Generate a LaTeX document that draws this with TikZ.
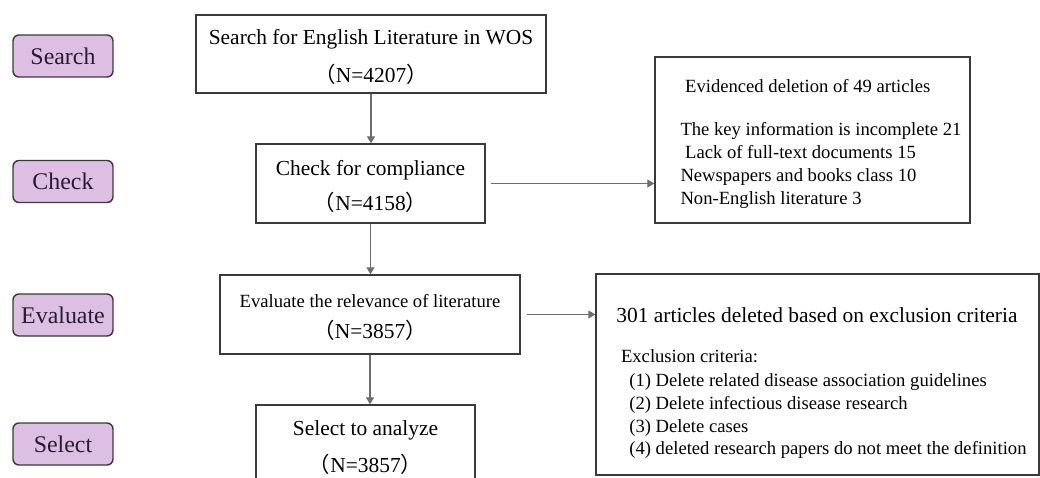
\documentclass[tikz,border=0pt]{standalone}
\usepackage{fontspec}
\setmainfont{Liberation Serif}
\newfontfamily\cjk{Noto Sans CJK SC}
\usetikzlibrary{arrows.meta}

\definecolor{mauve}{HTML}{DDBFE4}
\definecolor{bordure}{HTML}{3A3A3A}
\definecolor{trait}{HTML}{6E6E6E}
\definecolor{encre}{HTML}{2B1A30}

\newcommand{\grand}{\fontsize{12.2}{20.5}\selectfont}
\newcommand{\petit}{\fontsize{10.6}{13}\selectfont}
\newcommand{\effectif}[1]{{\cjk （}N=#1{\cjk ）}}
\newcommand{\haut}[1]{\rule{0pt}{#1}}

\begin{document}
\begin{tikzpicture}[x=0.02cm, y=-0.02cm,
    stagebox/.style={rectangle, rounded corners=3.4pt, draw=bordure, line width=0.8pt, fill=mauve,
        text=encre, font=\fontsize{13.6}{16}\selectfont, inner sep=0pt, minimum width=2cm, minimum height=0.84cm},
    flowbox/.style={rectangle, draw=bordure, line width=0.8pt, inner sep=0pt, align=center, font=\grand},
    flowarrow/.style={draw=trait, line width=0.6pt, -{Triangle[length=4pt, width=4.6pt]}}]

\clip (0,0) rectangle (1040,477);

% Étapes à gauche
\foreach \nom/\y [count=\i] in {Search/56, Check/181.5, Evaluate/315, Select/444} {
    \node[stagebox] (etape\i) at (63,\y) {\nom};
}

% Boîtes principales
\node[flowbox, minimum width=7cm, minimum height=1.56cm, font=\fontsize{12.2}{22}\selectfont] (recherche) at (371,54)
    {\haut{12pt}Search for English Literature in WOS\\\effectif{4207}};
\node[flowbox, minimum width=4.58cm, minimum height=1.58cm, font=\fontsize{12.2}{20}\selectfont] (controle) at (370.5,183.5)
    {\haut{12pt}Check for compliance\\\effectif{4158}};
\node[flowbox, minimum width=6cm, minimum height=1.58cm, font=\fontsize{12.2}{18}\selectfont] (evaluation) at (370,314.5)
    {\haut{11pt}{\petit Evaluate the relevance of literature}\\\effectif{3857}};
\node[flowbox, minimum width=4.38cm, minimum height=1.58cm, font=\fontsize{12.2}{21}\selectfont] (selection) at (365.5,444.5)
    {\haut{12pt}Select to analyze\\\effectif{3857}};

% Boîtes des suppressions
\node[flowbox, minimum width=6.3cm, minimum height=3.32cm, font=\petit] (suppression) at (812.5,140)
    {\begin{tabular}{@{\hspace{9.6pt}}l@{}}
    \haut{13.6pt}\ Evidenced deletion of 49 articles\\[11.4pt]
    The key information is incomplete 21\\
    \ Lack of full-text documents 15\\
    Newspapers and books class 10\\
    Non-English literature 3
    \end{tabular}};
\node[flowbox, minimum width=8.86cm, minimum height=4.02cm, font=\petit] (exclusion) at (817.5,374.5)
    {\begin{tabular}{@{\hspace{4.5pt}}l@{}}
    \haut{19.8pt}{\grand 301 articles deleted based on exclusion criteria}\\[10pt]
    \ Exclusion criteria:\\[0.6pt]
    \hspace{7.4pt}(1) Delete related disease association guidelines\\
    \hspace{7.4pt}(2) Delete infectious disease research\\
    \hspace{7.4pt}(3) Delete cases\\
    \hspace{7.4pt}(4) deleted research papers do not meet the definition
    \end{tabular}};

% Flèches verticales
\foreach \a/\b in {recherche/controle, controle/evaluation, evaluation/selection} {
    \draw[flowarrow] (\a.south) -- (\a.south |- \b.north);
}

% Flèches vers la droite
\draw[flowarrow, shorten <=3pt] (controle.east) -- (controle.east -| suppression.west);
\draw[flowarrow, shorten <=3.4pt] (evaluation.east) -- (evaluation.east -| exclusion.west);

\end{tikzpicture}
\end{document}
